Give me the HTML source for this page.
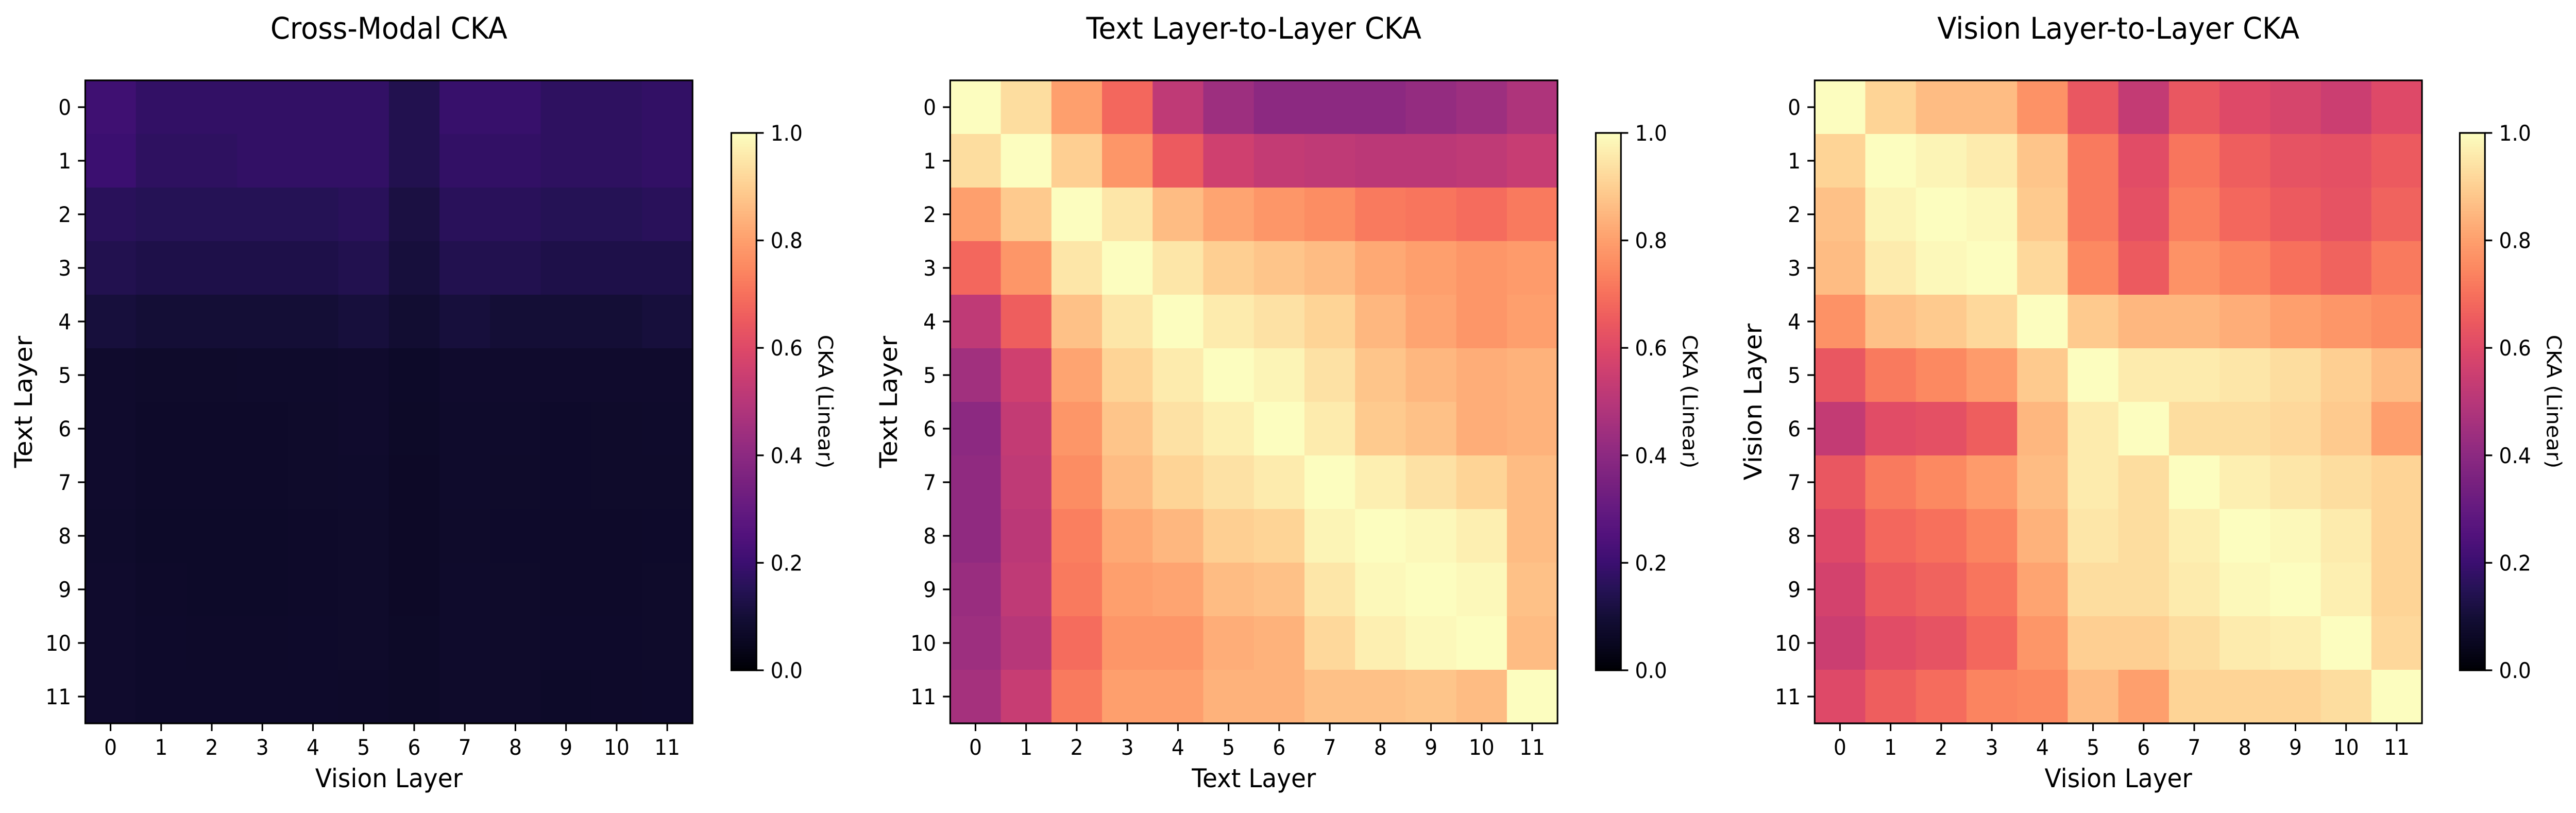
<!DOCTYPE html>
<html><head><meta charset="utf-8"><style>
html,body{margin:0;padding:0;background:#fff;width:5319px;height:1578px;overflow:hidden;}
svg{display:block;position:fixed;left:0;top:0;width:100vw;height:100vh;font-family:"DejaVu Sans","Liberation Sans",sans-serif;}
</style></head><body>
<svg id="fig" viewBox="0 0 5319 1578" preserveAspectRatio="none" xmlns="http://www.w3.org/2000/svg"></svg>
<script>
const layerTicks = ["0","1","2","3","4","5","6","7","8","9","10","11"];
const cbTicks = [0.0,0.2,0.4,0.6,0.8,1.0];
const crossModal = [
[0.21,0.18,0.18,0.18,0.18,0.18,0.14,0.19,0.19,0.17,0.17,0.18],
[0.20,0.17,0.17,0.18,0.18,0.18,0.14,0.18,0.18,0.17,0.17,0.18],
[0.16,0.15,0.15,0.15,0.15,0.16,0.12,0.16,0.16,0.15,0.15,0.16],
[0.14,0.13,0.13,0.13,0.13,0.14,0.11,0.14,0.14,0.13,0.13,0.13],
[0.11,0.10,0.10,0.10,0.10,0.11,0.09,0.11,0.10,0.10,0.10,0.11],
[0.08,0.075,0.075,0.078,0.078,0.08,0.07,0.08,0.08,0.08,0.08,0.08],
[0.08,0.072,0.072,0.072,0.075,0.08,0.068,0.078,0.078,0.074,0.075,0.078],
[0.08,0.072,0.072,0.072,0.075,0.078,0.066,0.078,0.076,0.074,0.075,0.076],
[0.078,0.07,0.07,0.07,0.072,0.075,0.066,0.076,0.074,0.072,0.072,0.074],
[0.08,0.072,0.07,0.07,0.072,0.076,0.066,0.078,0.075,0.072,0.073,0.075],
[0.08,0.074,0.072,0.072,0.074,0.076,0.068,0.078,0.076,0.074,0.074,0.075],
[0.08,0.074,0.074,0.074,0.074,0.072,0.068,0.076,0.076,0.07,0.072,0.074]];
const textCKA = [
[1.0,0.93,0.80,0.68,0.52,0.44,0.40,0.40,0.40,0.42,0.44,0.48],
[0.93,1.0,0.90,0.78,0.65,0.56,0.53,0.52,0.51,0.51,0.52,0.54],
[0.80,0.89,1.0,0.95,0.86,0.81,0.78,0.76,0.72,0.71,0.69,0.72],
[0.68,0.78,0.95,1.0,0.95,0.90,0.88,0.86,0.82,0.80,0.78,0.79],
[0.52,0.66,0.87,0.95,1.0,0.96,0.94,0.91,0.85,0.81,0.78,0.80],
[0.45,0.56,0.81,0.91,0.96,1.0,0.98,0.94,0.88,0.85,0.83,0.84],
[0.40,0.53,0.78,0.88,0.94,0.97,1.0,0.96,0.89,0.87,0.83,0.84],
[0.41,0.52,0.76,0.86,0.91,0.94,0.96,1.0,0.97,0.94,0.91,0.86],
[0.41,0.51,0.73,0.82,0.85,0.90,0.91,0.98,1.0,0.99,0.97,0.86],
[0.43,0.52,0.72,0.80,0.81,0.86,0.87,0.95,0.99,1.0,0.99,0.87],
[0.44,0.50,0.69,0.78,0.78,0.83,0.84,0.92,0.97,0.99,1.0,0.86],
[0.46,0.54,0.72,0.80,0.80,0.84,0.84,0.87,0.87,0.88,0.86,1.0]];
const visionCKA = [
[1.0,0.91,0.86,0.86,0.77,0.64,0.53,0.64,0.60,0.58,0.55,0.60],
[0.91,1.0,0.98,0.96,0.88,0.72,0.61,0.71,0.66,0.63,0.62,0.65],
[0.87,0.98,1.0,0.99,0.89,0.72,0.62,0.73,0.68,0.65,0.63,0.67],
[0.86,0.96,0.99,1.0,0.92,0.75,0.65,0.77,0.74,0.70,0.67,0.72],
[0.77,0.87,0.89,0.92,1.0,0.89,0.85,0.85,0.83,0.80,0.78,0.76],
[0.64,0.72,0.75,0.79,0.89,1.0,0.96,0.96,0.95,0.93,0.90,0.86],
[0.53,0.61,0.62,0.66,0.85,0.96,1.0,0.93,0.93,0.92,0.89,0.80],
[0.64,0.72,0.75,0.79,0.86,0.96,0.93,1.0,0.97,0.95,0.93,0.91],
[0.60,0.68,0.70,0.74,0.84,0.95,0.93,0.97,1.0,0.99,0.96,0.91],
[0.57,0.65,0.67,0.71,0.81,0.93,0.93,0.96,0.99,1.0,0.97,0.91],
[0.55,0.61,0.63,0.68,0.78,0.90,0.90,0.93,0.96,0.97,1.0,0.92],
[0.60,0.66,0.69,0.74,0.75,0.86,0.80,0.91,0.91,0.91,0.93,1.0]];

const magma = [[0,"#000004"],[0.05,"#090720"],[0.1,"#140e36"],[0.15,"#251255"],[0.2,"#3b0f70"],[0.25,"#51127c"],[0.3,"#641a80"],[0.35,"#78217f"],[0.4,"#8c2981"],[0.45,"#a1307e"],[0.5,"#b73779"],[0.55,"#cb3e71"],[0.6,"#de4968"],[0.65,"#ec5a5f"],[0.7,"#f7705c"],[0.75,"#fc8961"],[0.8,"#fe9f6d"],[0.85,"#feb77f"],[0.9,"#fecf92"],[0.95,"#fde6a8"],[1,"#fcfdbf"]];
function hx(h){return [1,3,5].map(i=>parseInt(h.substr(i,2),16));}
function cmap(v){v=Math.max(0,Math.min(1,v));
 for(let i=1;i<magma.length;i++){if(v<=magma[i][0]){const a=magma[i-1],b=magma[i];const t=(v-a[0])/(b[0]-a[0]);const ca=hx(a[1]),cb=hx(b[1]);
 return "rgb("+ca.map((c,k)=>Math.round(c+(cb[k]-c)*t)).join(",")+")";}}return magma[magma.length-1][1];}

const NS="http://www.w3.org/2000/svg";
const svg=document.getElementById("fig");
function el(tag,attrs,parent){const e=document.createElementNS(NS,tag);for(const k in attrs)e.setAttribute(k,attrs[k]);(parent||svg).appendChild(e);return e;}

const AY=156, AS=1248, AW=1254;
const panels=[
 {x:176,cb:1510,data:crossModal,title:"Cross-Modal CKA",xl:"Vision Layer",yl:"Text Layer",key:"cross-modal"},
 {x:1962,cb:3295,data:textCKA,title:"Text Layer-to-Layer CKA",xl:"Text Layer",yl:"Text Layer",key:"text"},
 {x:3747,cb:5079,data:visionCKA,title:"Vision Layer-to-Layer CKA",xl:"Vision Layer",yl:"Vision Layer",key:"vision"}];
const CBY0=258, CBY1=1301, CBW=52;

panels.forEach(p=>{
 const g=el("g",{});
 
 
 const n=layerTicks.length;
 const cw=AW/n, ch=AS/n;
 const xs=j=>p.x+j*cw, ys=i=>AY+i*ch;
 p.data.forEach((row,i)=>row.forEach((v,j)=>{
  const r=el("rect",{x:xs(j),y:ys(i),width:cw+0.6,height:ch+0.6,fill:cmap(v)},g);
  
  
 }));
 const fr=el("rect",{x:p.x,y:AY,width:AW,height:AS,fill:"none",stroke:"#000","stroke-width":3.3},g);
 
 
 layerTicks.forEach((t,k)=>{
  const cx=xs(k)+cw/2, cy=ys(k)+ch/2;
  el("line",{x1:cx,x2:cx,y1:AY+AS,y2:AY+AS+15,stroke:"#000","stroke-width":3.3},g);
  const tx=el("text",{x:cx,y:1465,"font-size":41.7,"text-anchor":"middle"},g);tx.textContent=t;
  
  
  el("line",{x1:p.x-15,x2:p.x,y1:cy,y2:cy,stroke:"#000","stroke-width":3.3},g);
  const ty=el("text",{x:p.x-29,y:cy+15,"font-size":41.7,"text-anchor":"end"},g);ty.textContent=t;
  
  
 });
 const ti=el("text",{x:p.x+AW/2,y:75,"font-size":58,"text-anchor":"middle"},g);ti.textContent=p.title;
 
 
 const xl=el("text",{x:p.x+AW/2,y:1528,"font-size":50,"text-anchor":"middle"},g);xl.textContent=p.xl;
 
 
 const yl=el("text",{x:0,y:0,"font-size":50,"text-anchor":"middle",transform:`translate(${p.x-110},${AY+AS/2}) rotate(-90)`},g);yl.textContent=p.yl;
 
 
 const cbg=el("g",{},g);
 
 
 const steps=200, sh=(CBY1-CBY0)/steps;
 for(let s=0;s<steps;s++){const v=(s+0.5)/steps;el("rect",{x:p.cb,y:CBY1-(s+1)*sh,width:CBW,height:sh+0.6,fill:cmap(v)},cbg);}
 el("rect",{x:p.cb,y:CBY0,width:CBW,height:CBY1-CBY0,fill:"none",stroke:"#000","stroke-width":3.3},cbg);
 const cby=v=>CBY1-v*(CBY1-CBY0);
 cbTicks.forEach(v=>{
  el("line",{x1:p.cb+CBW,x2:p.cb+CBW+15,y1:cby(v),y2:cby(v),stroke:"#000","stroke-width":3.3},cbg);
  const t=el("text",{x:p.cb+CBW+29,y:cby(v)+15,"font-size":41.7},cbg);t.textContent=v.toFixed(1);
  
  
 });
 const cl=el("text",{x:0,y:0,"font-size":41.7,"text-anchor":"middle",transform:`translate(${p.cb+CBW+128},${(CBY0+CBY1)/2}) rotate(90)`},cbg);cl.textContent="CKA (Linear)";
 
 
});
</script>
</body></html>
